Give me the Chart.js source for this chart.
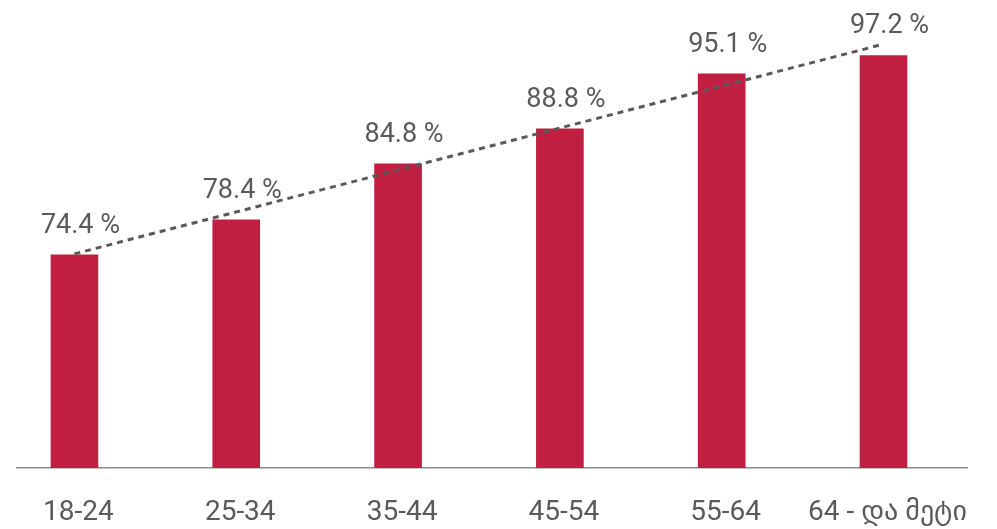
<!DOCTYPE html>
<html>
<head>
<meta charset="utf-8">
<script src="https://cdn.jsdelivr.net/npm/chart.js@4/dist/chart.umd.min.js"></script>
<style>
    html, body { margin: 0; padding: 0; background: #fff; }
    #wrap { width: 997px; height: 529px; }
</style>
</head>
<body>
<div id="wrap"><canvas id="chart"></canvas></div>
<script>
// Age groups and shares
const categories = ['18-24', '25-34', '35-44', '45-54', '55-64', '64 - და მეტი'];
const shareValues = [74.4, 78.4, 84.8, 88.8, 95.1, 97.2];
// Linear trend
const trendValues = [74.5, 79.3, 84.1, 88.9, 93.7, 98.5];

const barColor = '#c11f42';
const textColor = '#5a5a5a';
const fontFamily = "Roboto, 'DejaVu Sans', sans-serif";

// Value labels above the bars
const valueLabels = {
    id: 'valueLabels',
    afterDatasetsDraw(chart) {
        const ctx = chart.ctx;
        const meta = chart.getDatasetMeta(0);
        ctx.save();
        ctx.font = `27px ${ fontFamily }`;
        ctx.fillStyle = textColor;
        ctx.textAlign = 'center';
        ctx.textBaseline = 'alphabetic';
        meta.data.forEach((bar, i) => {
            ctx.fillText(`${ shareValues[i].toFixed(1) } %`, bar.x + 6, bar.y - 22);
        });
        ctx.restore();
    }
};

new Chart(document.getElementById('chart'), {
    data: {
        datasets: [
            {
                type: 'bar',
                data: shareValues.map((v, i) => ({ x: i + 1, y: v })),
                backgroundColor: barColor,
                barThickness: 47,
                borderWidth: 0,
                order: 1
            },
            {
                type: 'line',
                data: trendValues.map((v, i) => ({ x: i + 1, y: v })),
                borderColor: '#595959',
                borderWidth: 3,
                borderDash: [6, 5],
                pointRadius: 0,
                fill: false,
                order: 0
            }
        ]
    },
    options: {
        responsive: true,
        maintainAspectRatio: false,
        animation: false,
        layout: {
            padding: { top: 31, left: 17, right: 30, bottom: 1 }
        },
        plugins: {
            legend: { display: false },
            tooltip: { enabled: false }
        },
        scales: {
            x: {
                type: 'linear',
                offset: false,
                min: 0.645,
                max: 6.516,
                afterBuildTicks: (scale) => {
                    scale.ticks = categories.map((_, i) => ({ value: i + 1 }));
                },
                afterFit: (scale) => {
                    scale.height = 60;
                },
                grid: { display: false, drawTicks: false },
                border: { display: true, color: '#8c8c8c', width: 1.5 },
                ticks: {
                    padding: 28,
                    labelOffset: 4,
                    autoSkip: false,
                    maxRotation: 0,
                    minRotation: 0,
                    color: textColor,
                    font: { family: fontFamily, size: 28 },
                    callback: (value) => categories[value - 1] ?? ''
                }
            },
            y: {
                display: false,
                min: 50,
                max: 100
            }
        }
    },
    plugins: [valueLabels]
});
</script>
</body>
</html>
